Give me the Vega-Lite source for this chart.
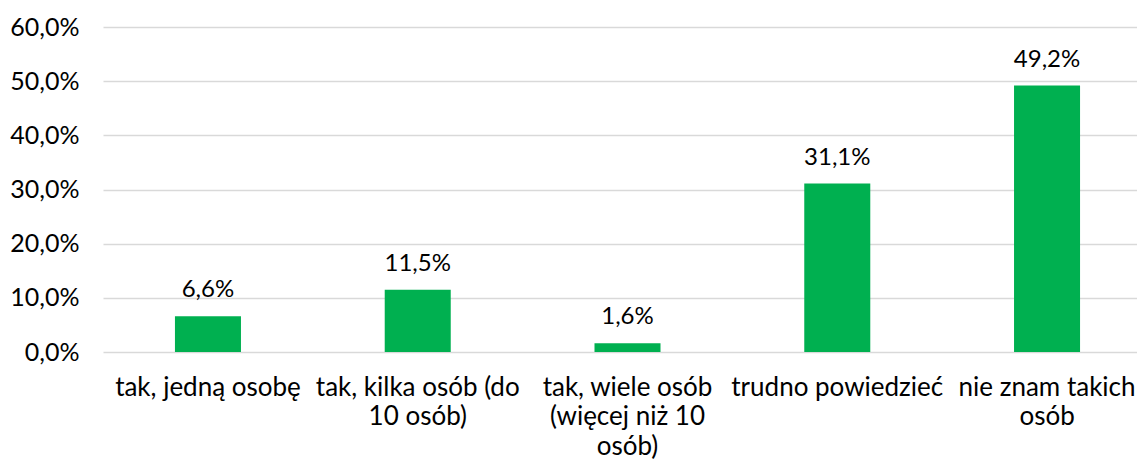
{
  "$schema": "https://vega.github.io/schema/vega-lite/v6.json",
  "width": 1034,
  "height": 325,
  "autosize": {"type": "none"},
  "padding": {"left": 103, "top": 27, "right": 0, "bottom": 110},
  "config": {
    "locale": {"number": {"decimal": ",", "thousands": " ", "grouping": [3], "currency": ["", " zł"]}},
    "view": {"stroke": null},
    "font": "Lato"
  },
  "data": {
    "values": [
      {"kategoria": "tak, jedną osobę", "wartosc": 0.066},
      {"kategoria": "tak, kilka osób (do 10 osób)", "wartosc": 0.115},
      {"kategoria": "tak, wiele osób (więcej niż 10 osób)", "wartosc": 0.016},
      {"kategoria": "trudno powiedzieć", "wartosc": 0.311},
      {"kategoria": "nie znam takich osób", "wartosc": 0.492}
    ]
  },
  "encoding": {
    "x": {
      "field": "kategoria",
      "type": "nominal",
      "sort": null,
      "title": null,
      "scale": {"paddingInner": 0.6853, "paddingOuter": 0.343, "range": [0, 1049]},
      "axis": {
        "labelAngle": 0,
        "domain": false,
        "ticks": false,
        "labelFontSize": 26,
        "labelColor": "#000000",
        "labelPadding": 43,
        "labelLineHeight": 29.5,
        "labelBaseline": "alphabetic",
        "labelLimit": 300,
        "labelExpr": "datum.value == 'tak, kilka osób (do 10 osób)' ? ['tak, kilka osób (do', '10 osób)'] : datum.value == 'tak, wiele osób (więcej niż 10 osób)' ? ['tak, wiele osób', '(więcej niż 10', 'osób)'] : datum.value == 'nie znam takich osób' ? ['nie znam takich', 'osób'] : datum.value"
      }
    },
    "y": {
      "field": "wartosc",
      "type": "quantitative",
      "title": null,
      "scale": {"domain": [0, 0.6], "nice": false},
      "axis": {
        "values": [0, 0.1, 0.2, 0.3, 0.4, 0.5, 0.6],
        "format": ".1%",
        "domain": false,
        "ticks": false,
        "grid": true,
        "gridColor": "#d9d9d9",
        "gridWidth": 1.3,
        "labelFontSize": 25,
        "labelColor": "#000000",
        "labelPadding": 24
      }
    }
  },
  "layer": [
    {"mark": {"type": "bar", "color": "#00B050"}},
    {
      "mark": {"type": "text", "baseline": "alphabetic", "dy": -19, "fontSize": 24, "color": "#000000"},
      "encoding": {"text": {"field": "wartosc", "type": "quantitative", "format": ".1%"}}
    }
  ]
}
